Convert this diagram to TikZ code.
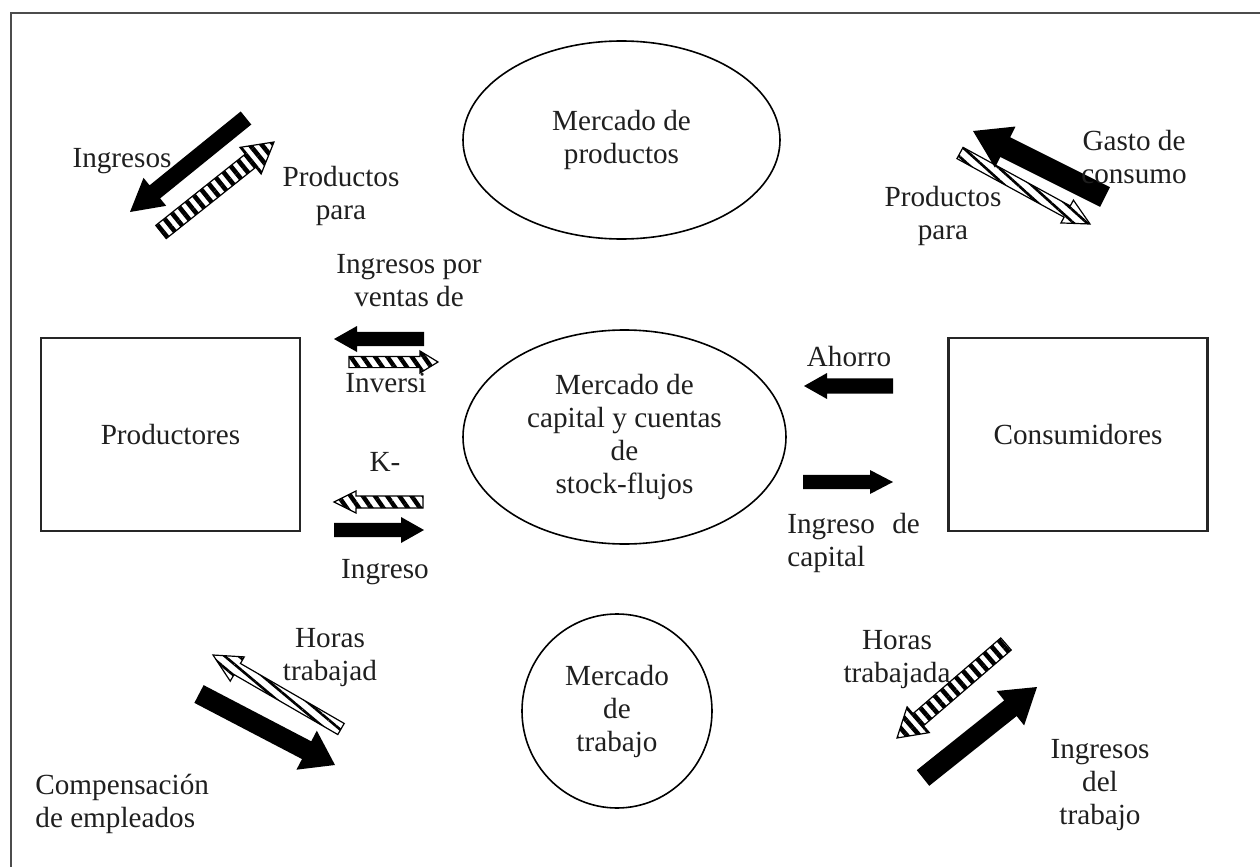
\documentclass[tikz,border=0pt]{standalone}
\usepackage{fontspec}
\setmainfont{Liberation Serif}
\usetikzlibrary{calc,patterns.meta,shapes.geometric}
\newcommand\blockarrow[6]{%
  \path ($(#3)!#6!(#2)$) coordinate (hb);
  \path[#1] ($(#2)!#4!90:(#3)$) -- ($(hb)!#4!-90:(#2)$) -- ($(hb)!#5!-90:(#2)$) -- (#3)
    -- ($(hb)!#5!90:(#2)$) -- ($(hb)!#4!90:(#2)$) -- ($(#2)!#4!-90:(#3)$) -- cycle;
}
\tikzset{
  lbl/.style={font=\fontsize{14.6}{16.5}\selectfont, align=center, inner sep=0pt, text=black!88},
  boxn/.style={draw=black!85, line width=1.1pt, minimum width=129.5pt, minimum height=96.5pt,
    font=\fontsize{14.6}{16.5}\selectfont, text=black!88},
  elln/.style={ellipse, draw=black, line width=0.8pt, inner sep=0pt,
    font=\fontsize{14.6}{16.5}\selectfont, align=center, text=black!88},
  blk/.style={fill=black},
  hat/.style={draw=black, line width=0.6pt, pattern={Lines[angle=#1, distance=4.7pt, line width=2.3pt]}},
  hats/.style={draw=black, line width=0.6pt, pattern={Lines[angle=#1, distance=5pt, line width=2.2pt]}},
  hatt/.style={draw=black, line width=0.6pt, pattern={Lines[angle=#1, distance=4.5pt, line width=1.3pt]}},
}
\begin{document}
\begin{tikzpicture}[x=0.5pt, y={(0pt,-0.5pt)}]
\useasboundingbox (0,0) rectangle (1260,867);
% frame
\draw[line width=1.1pt, black!70] (11,867) -- (11,13) -- (1260,13);
% boxes
\node[boxn] (prod) at (170.5,434.5) {Productores};
\node[boxn] (cons) at (1078,434.5) {Consumidores};
% ellipses
\node[elln, minimum width=158.5pt, minimum height=99pt] (mp) at (621.5,140) {Mercado de\\productos};
\node[elln, minimum width=161.5pt, minimum height=107pt] (mc) at (624.5,437) {Mercado de\\capital y cuentas\\de\\stock-flujos};
\node[elln, minimum width=95pt, minimum height=97pt] (mt) at (617,711) {Mercado\\de\\trabajo};
% arrow end points
\coordinate (a1t) at (246,118);  \coordinate (a1h) at (130,212);
\coordinate (a2t) at (161,232);  \coordinate (a2h) at (274,142);
\coordinate (a3t) at (1105,197); \coordinate (a3h) at (973,131);
\coordinate (a4t) at (960,153);  \coordinate (a4h) at (1090,224);
\coordinate (a5t) at (424,339);  \coordinate (a5h) at (334,339);
\coordinate (a6t) at (349,362);  \coordinate (a6h) at (438,362);
\coordinate (a7t) at (423,502);  \coordinate (a7h) at (334,502);
\coordinate (a8t) at (334,530);  \coordinate (a8h) at (424,530);
\coordinate (a9t) at (893,386);  \coordinate (a9h) at (804,386);
\coordinate (a10t) at (803,482); \coordinate (a10h) at (893,482);
\coordinate (a11t) at (341,729); \coordinate (a11h) at (213,655);
\coordinate (a12t) at (199,694); \coordinate (a12h) at (335,765);
\coordinate (a13t) at (1006,644);\coordinate (a13h) at (897,738);
\coordinate (a14t) at (923,778); \coordinate (a14h) at (1037,687);
% arrows
\blockarrow{blk}{a1t}{a1h}{4.2pt}{9pt}{16pt}
\blockarrow{hat=129}{a2t}{a2h}{4.2pt}{8.5pt}{15pt}
\blockarrow{blk}{a3t}{a3h}{5.5pt}{11.5pt}{18pt}
\blockarrow{hatt=-42}{a4t}{a4h}{3.2pt}{6.5pt}{13pt}
\blockarrow{blk}{a5t}{a5h}{3.6pt}{6.5pt}{11.5pt}
\blockarrow{hats=-55}{a6t}{a6h}{2.8pt}{5.5pt}{9pt}
\blockarrow{hats=-55}{a7t}{a7h}{3pt}{5.5pt}{11pt}
\blockarrow{blk}{a8t}{a8h}{3.6pt}{6.5pt}{11.5pt}
\blockarrow{blk}{a9t}{a9h}{3.8pt}{6.5pt}{11.5pt}
\blockarrow{blk}{a10t}{a10h}{3.6pt}{6pt}{11.5pt}
\blockarrow{hatt=140}{a11t}{a11h}{3.2pt}{7pt}{14pt}
\blockarrow{blk}{a12t}{a12h}{5pt}{11pt}{16pt}
\blockarrow{hat=131}{a13t}{a13h}{4pt}{8.5pt}{14pt}
\blockarrow{blk}{a14t}{a14h}{5pt}{11pt}{17pt}
% labels
\begin{scope}
  \clip (60,140) rectangle (200,173);
  \node[lbl] (t1) at (122,161) {Ingresos};
\end{scope}
\node[lbl] (t2) at (341,196) {Productos\\para};
\node[lbl] (t3) at (1134,157) {Gasto de\\consumo};
\node[lbl] (t4) at (943,216) {Productos\\para};
\node[lbl] (t5) at (409,281) {Ingresos por\\ventas de};
\node[lbl] (t6) at (386,383) {Inversi};
\node[lbl] (t7) at (385,462) {K-};
\node[lbl] (t8) at (385,572) {Ingreso};
\node[lbl] (t9) at (849,357) {Ahorro};
\node[lbl, align=left, anchor=west] (t10) at (787,543) {Ingreso\hspace{5pt} de\\capital};
\node[lbl] (t11) at (330,658) {Horas\\trabajad};
\node[lbl] (t12) at (897,660) {Horas\\trabajada};
\node[lbl, align=left, anchor=west] (t13) at (35,804) {Compensación\\de empleados};
\node[lbl] (t14) at (1100,785) {Ingresos\\del\\trabajo};
\end{tikzpicture}
\end{document}
